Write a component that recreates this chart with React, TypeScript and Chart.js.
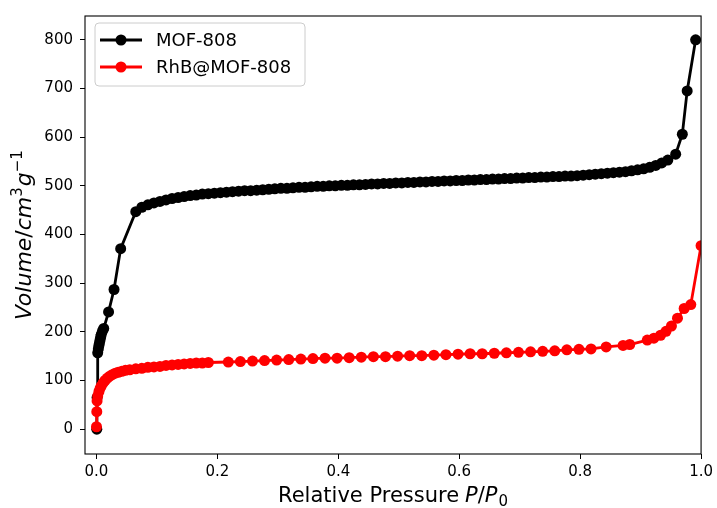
import React, { useEffect, useRef } from "react";
import { Chart, registerables } from "chart.js";

Chart.register(...registerables);

// MOF-808 isotherm (relative pressure, volume)
const mofX = [
  0.0005, 0.001, 0.002, 0.003, 0.004, 0.005, 0.006, 0.007, 0.008, 0.01, 0.012, 0.02, 0.029, 0.04, 0.065,
  0.075, 0.085, 0.095, 0.105, 0.115, 0.125, 0.135, 0.145, 0.155, 0.165, 0.175, 0.185, 0.195,
  0.205, 0.215, 0.225, 0.235, 0.245, 0.255, 0.265, 0.275, 0.285, 0.295,
  0.305, 0.315, 0.325, 0.335, 0.345, 0.355, 0.365, 0.375, 0.385, 0.395,
  0.405, 0.415, 0.425, 0.435, 0.445, 0.455, 0.465, 0.475, 0.485, 0.495,
  0.505, 0.515, 0.525, 0.535, 0.545, 0.555, 0.565, 0.575, 0.585, 0.595,
  0.605, 0.615, 0.625, 0.635, 0.645, 0.655, 0.665, 0.675, 0.685, 0.695,
  0.705, 0.715, 0.725, 0.735, 0.745, 0.755, 0.765, 0.775, 0.785, 0.795,
  0.805, 0.815, 0.825, 0.835, 0.845, 0.855, 0.865, 0.875, 0.885, 0.895,
  0.905, 0.915, 0.925, 0.935, 0.945, 0.958, 0.969, 0.977, 0.991,
];
const mofY = [
  0, 65, 157, 165, 172, 178, 184, 190, 195, 202, 207, 241, 287, 371, 447,
  456, 461, 465, 468, 471, 474, 476, 478, 480, 481, 483, 484, 485,
  486, 487, 488, 489, 490, 490, 491, 492, 493, 494,
  495, 495, 496, 497, 497, 498, 499, 499, 500, 500,
  501, 501, 502, 502, 503, 504, 504, 505, 505, 506,
  506, 507, 507, 508, 508, 509, 509, 510, 510, 511,
  511, 512, 512, 513, 513, 514, 514, 515, 515, 516,
  516, 517, 517, 518, 518, 519, 519, 520, 520, 521,
  522, 523, 524, 525, 526, 527, 528, 529, 531, 533,
  535, 538, 542, 547, 553, 565, 606, 695, 800,
];

// RhB@MOF-808 isotherm
const rhbX = [
  0, 0.0005, 0.001, 0.002, 0.004, 0.006, 0.008, 0.011, 0.014, 0.018, 0.022, 0.026, 0.031, 0.036, 0.042,
  0.048, 0.055, 0.065, 0.075, 0.085, 0.095, 0.105, 0.115, 0.125, 0.135, 0.145, 0.155, 0.165, 0.175, 0.185,
  0.218, 0.238, 0.258, 0.278, 0.298, 0.318, 0.338, 0.358, 0.378, 0.398,
  0.418, 0.438, 0.458, 0.478, 0.498, 0.518, 0.538, 0.558, 0.578, 0.598,
  0.618, 0.638, 0.658, 0.678, 0.698, 0.718, 0.738, 0.758, 0.778, 0.798, 0.818,
  0.843, 0.871, 0.882, 0.911, 0.922, 0.933, 0.942, 0.951, 0.961, 0.972, 0.983, 1.0,
];
const rhbY = [
  5, 36, 58, 68, 77, 84, 89, 95, 100, 105, 109, 112, 115, 117, 119,
  121, 122, 124, 125, 127, 128, 129, 131, 132, 133, 134, 135, 136, 136, 137,
  138, 139, 140, 141, 142, 143, 144, 145, 146, 146,
  147, 148, 149, 149, 150, 151, 151, 152, 153, 154,
  155, 155, 156, 157, 158, 159, 160, 161, 163, 164, 165,
  169, 172, 174, 183, 187, 193, 201, 212, 228, 248, 256, 377,
];

const seriesNames = ["MOF-808", "RhB@MOF-808"];
const seriesColors = ["#000000", "#ff0000"];
const xTicks = [0.0, 0.2, 0.4, 0.6, 0.8, 1.0];
const yTicks = [0, 100, 200, 300, 400, 500, 600, 700, 800];

const FONT = "'DejaVu Sans', 'Noto Sans', sans-serif";

function drawPieces(ctx: CanvasRenderingContext2D, pieces: any[], cx: number, baseY: number) {
  let total = 0;
  for (const p of pieces) {
    ctx.font = p.font;
    total += ctx.measureText(p.t).width + (p.gap || 0);
  }
  let x = cx - total / 2;
  for (const p of pieces) {
    ctx.font = p.font;
    ctx.fillText(p.t, x, baseY + (p.dy || 0));
    x += ctx.measureText(p.t).width + (p.gap || 0);
  }
}

const customPlugin = {
  id: "custom",
  afterDatasetsDraw(chart: any) {
    const { ctx, chartArea } = chart;
    ctx.save();
    ctx.strokeStyle = "#000";
    ctx.lineWidth = 1.1;
    ctx.strokeRect(chartArea.left, chartArea.top, chartArea.right - chartArea.left, chartArea.bottom - chartArea.top);
    ctx.restore();
  },
  afterDraw(chart: any) {
    const { ctx, chartArea } = chart;
    ctx.save();
    // legend
    const lx = 95, ly = 23, lw = 210, lh = 63, r = 4;
    ctx.beginPath();
    ctx.moveTo(lx + r, ly);
    ctx.lineTo(lx + lw - r, ly);
    ctx.arcTo(lx + lw, ly, lx + lw, ly + r, r);
    ctx.lineTo(lx + lw, ly + lh - r);
    ctx.arcTo(lx + lw, ly + lh, lx + lw - r, ly + lh, r);
    ctx.lineTo(lx + r, ly + lh);
    ctx.arcTo(lx, ly + lh, lx, ly + lh - r, r);
    ctx.lineTo(lx, ly + r);
    ctx.arcTo(lx, ly, lx + r, ly, r);
    ctx.closePath();
    ctx.fillStyle = "rgba(255,255,255,0.8)";
    ctx.fill();
    ctx.strokeStyle = "#cccccc";
    ctx.lineWidth = 1;
    ctx.stroke();
    const rows = [40, 67];
    seriesNames.forEach((name, i) => {
      const y = rows[i];
      ctx.strokeStyle = seriesColors[i];
      ctx.lineWidth = 2.8;
      ctx.beginPath();
      ctx.moveTo(100, y);
      ctx.lineTo(142, y);
      ctx.stroke();
      ctx.fillStyle = seriesColors[i];
      ctx.beginPath();
      ctx.arc(121, y, 5.5, 0, Math.PI * 2);
      ctx.fill();
      ctx.fillStyle = "#000";
      ctx.font = `18px ${FONT}`;
      ctx.textBaseline = "middle";
      ctx.textAlign = "left";
      ctx.fillText(name, 156, y + 1);
    });

    // axis titles
    ctx.fillStyle = "#000";
    ctx.textBaseline = "alphabetic";
    ctx.textAlign = "left";
    const cx = (chartArea.left + chartArea.right) / 2;
    drawPieces(ctx, [
      { t: "Relative Pressure", font: `21px ${FONT}`, gap: 6 },
      { t: "P", font: `italic 21px ${FONT}` },
      { t: "/", font: `21px ${FONT}` },
      { t: "P", font: `italic 21px ${FONT}`, gap: 1 },
      { t: "0", font: `15px ${FONT}`, dy: 4 },
    ], cx, 502);

    const cy = (chartArea.top + chartArea.bottom) / 2;
    ctx.translate(31, cy);
    ctx.rotate(-Math.PI / 2);
    drawPieces(ctx, [
      { t: "Volume", font: `italic 22px ${FONT}` },
      { t: "/", font: `22px ${FONT}` },
      { t: "cm", font: `italic 22px ${FONT}` },
      { t: "3", font: `15px ${FONT}`, dy: -9, gap: 1 },
      { t: "g", font: `italic 22px ${FONT}` },
      { t: "\u22121", font: `15px ${FONT}`, dy: -9 },
    ], 0, 0);
    ctx.restore();
  },
};

export default function App() {
  const ref = useRef<HTMLCanvasElement>(null);
  useEffect(() => {
    if (!ref.current) return;
    const mk = (i: number, xs: number[], ys: number[], order: number) => ({
      label: seriesNames[i],
      data: xs.map((x, k) => ({ x, y: ys[k] })),
      borderColor: seriesColors[i],
      backgroundColor: seriesColors[i],
      pointBackgroundColor: seriesColors[i],
      pointBorderWidth: 0,
      pointRadius: 5.5,
      pointHoverRadius: 5.5,
      borderWidth: 2.8,
      tension: 0,
      clip: 0,
      order,
    });
    const chart = new Chart(ref.current, {
      type: "line",
      data: {
        datasets: [mk(0, mofX, mofY, 1), mk(1, rhbX, rhbY, 0)],
      },
      options: {
        animation: false,
        responsive: false,
        events: [],
        layout: { padding: { left: 0, top: 15, right: 15, bottom: 0 } },
        plugins: { legend: { display: false }, tooltip: { enabled: false }, title: { display: false } },
        scales: {
          x: {
            type: "linear",
            min: -0.019,
            max: 1.0,
            afterBuildTicks: (s: any) => { s.ticks = xTicks.map((v) => ({ value: v })); },
            afterFit: (s: any) => { s.height = 54; },
            ticks: {
              callback: (v: any) => Number(v).toFixed(1),
              color: "#000",
              font: { family: FONT, size: 15 },
              padding: 4,
              maxRotation: 0,
              autoSkip: false,
            },
            grid: { drawOnChartArea: false, drawTicks: true, tickLength: 5, tickColor: "#000", tickWidth: 1 },
            border: { display: false },
          },
          y: {
            type: "linear",
            min: -51,
            max: 849,
            afterBuildTicks: (s: any) => { s.ticks = yTicks.map((v) => ({ value: v })); },
            afterFit: (s: any) => { s.width = 85; },
            ticks: {
              callback: (v: any) => String(v),
              color: "#000",
              font: { family: FONT, size: 15 },
              padding: 7,
              autoSkip: false,
            },
            grid: { drawOnChartArea: false, drawTicks: true, tickLength: 5, tickColor: "#000", tickWidth: 1 },
            border: { display: false },
          },
        },
      },
      plugins: [customPlugin],
    } as any);
    return () => chart.destroy();
  }, []);
  return (
    <div style={{ position: "absolute", left: 0, top: 0, width: 717, height: 508, background: "#fff" }}>
      <canvas ref={ref} width={717} height={508} />
    </div>
  );
}
